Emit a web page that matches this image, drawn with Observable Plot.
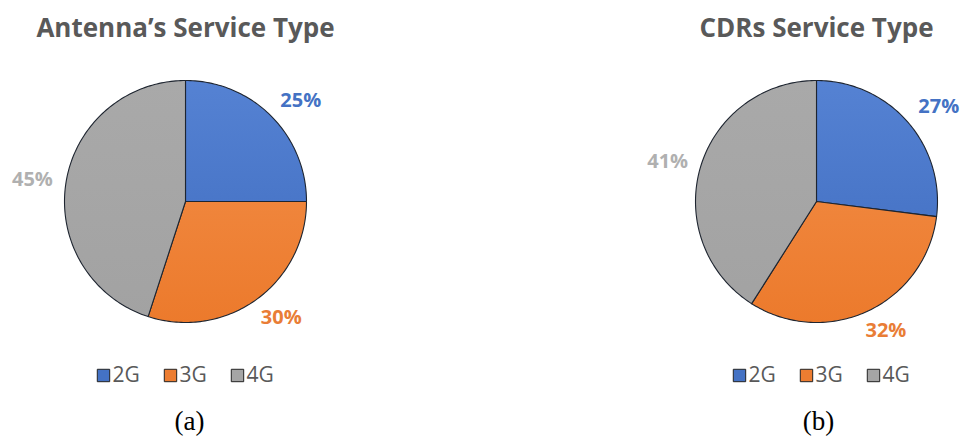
<!DOCTYPE html>
<html>
<head>
<meta charset="utf-8">
<script src="https://cdn.jsdelivr.net/npm/d3@7"></script>
<script src="https://cdn.jsdelivr.net/npm/@observablehq/plot@0.6"></script>
<style>
  html, body { margin: 0; padding: 0; background: #fff; }
  #chart { width: 964px; height: 440px; }
</style>
</head>
<body>
<div id="chart"></div>
<script>
// ---- data ----
const categories = ["2G", "3G", "4G"];
const antennaShares = [25, 30, 45];
const cdrShares = [27, 32, 41];
const titles = ["Antenna\u2019s Service Type", "CDRs Service Type"];
const captions = ["(a)", "(b)"];

// ---- styling / layout ----
const colors = {"2G": "#4472C4", "3G": "#ED7D31", "4G": "#A5A5A5"};
const labelColors = {"2G": "#4472C4", "3G": "#E97D36", "4G": "#B0B0B0"};
const gradIds = {"2G": "url(#g2G)", "3G": "url(#g3G)", "4G": "url(#g4G)"};
const W = 964, H = 440;
const panels = [
  {values: antennaShares, title: titles[0], caption: captions[0], cx: 185, cy: 201, r: 121, titleX: 185, legendX: 184, captionX: 189},
  {values: cdrShares, title: titles[1], caption: captions[1], cx: 816, cy: 201, r: 121, titleX: 816, legendX: 820, captionX: 818}
];
const labelGap = 12, labelHalfW = 22, labelHalfH = 10, labelRightPad = 8;

// slice polygons
const slicePts = [];
const labels = [];
const legendItems = [];
panels.forEach((p, pi) => {
  const total = d3.sum(p.values);
  let acc = 0;
  p.values.forEach((v, i) => {
    const a0 = acc / total * 2 * Math.PI;
    acc += v;
    const a1 = acc / total * 2 * Math.PI;
    const key = pi + "-" + categories[i];
    slicePts.push({key, cat: categories[i], x: p.cx, y: p.cy});
    const n = Math.max(2, Math.ceil((a1 - a0) / 0.02));
    for (let k = 0; k <= n; k++) {
      const a = a0 + (a1 - a0) * k / n;
      slicePts.push({key, cat: categories[i], x: p.cx + p.r * Math.sin(a), y: p.cy - p.r * Math.cos(a)});
    }
    const am = (a0 + a1) / 2;
    const s = Math.sin(am), c = Math.cos(am);
    const hx = labelHalfW + (s > 0 ? labelRightPad : 0);
    labels.push({
      cat: categories[i], text: v + "%",
      x: p.cx + (p.r + labelGap) * s + hx * s,
      y: p.cy - (p.r + labelGap) * c - labelHalfH * c
    });
  });
  categories.forEach((c, i) => {
    const sx = p.legendX - 81 + i * 67;
    legendItems.push({cat: c, sx, sy: 375, tx: sx + 9, ty: 375});
  });
});

const titleData = panels.map(p => ({text: p.title, x: p.titleX, y: 28}));
const captionData = panels.map(p => ({text: p.caption, x: p.captionX, y: 421}));

const sliceMarks = categories.map(c =>
  Plot.line(slicePts.filter(d => d.cat === c), {
    x: "x", y: "y", z: "key", curve: "linear-closed",
    fill: gradIds[c], stroke: "#1e2530", strokeWidth: 1.1, strokeLinejoin: "round"
  })
);

const chart = Plot.plot({
  width: W, height: H,
  margin: 0,
  x: {domain: [0, W], axis: null},
  y: {domain: [0, H], reverse: true, axis: null},
  style: {background: "#fff"},
  marks: [
    ...sliceMarks,
    Plot.text(titleData, {x: "x", y: "y", text: "text", fontFamily: "Open Sans", fontWeight: "bold", fontSize: 26, fill: "#595959"}),
    Plot.text(labels, {x: "x", y: "y", text: "text", fontFamily: "Open Sans", fontWeight: "bold", fontSize: 20, fill: d => labelColors[d.cat]}),
    Plot.dot(legendItems, {x: "sx", y: "sy", symbol: "square", r: 7, fill: d => colors[d.cat], stroke: "#222", strokeWidth: 1}),
    Plot.text(legendItems, {x: "tx", y: "ty", text: "cat", textAnchor: "start", fontFamily: "Open Sans", fontSize: 21, fill: "#595959"}),
    Plot.text(captionData, {x: "x", y: "y", text: "text", fontFamily: "Liberation Serif", fontSize: 27, fill: "#000"})
  ]
});

// gradients used for slice fills
const ns = "http://www.w3.org/2000/svg";
const defs = document.createElementNS(ns, "defs");
defs.innerHTML = `
  <linearGradient id="g2G" gradientUnits="userSpaceOnUse" x1="0" y1="80" x2="0" y2="322">
    <stop offset="0" stop-color="#5582D3"/><stop offset="1" stop-color="#3E6BBE"/>
  </linearGradient>
  <linearGradient id="g3G" gradientUnits="userSpaceOnUse" x1="0" y1="80" x2="0" y2="322">
    <stop offset="0" stop-color="#F3904B"/><stop offset="1" stop-color="#EC7A2C"/>
  </linearGradient>
  <linearGradient id="g4G" gradientUnits="userSpaceOnUse" x1="0" y1="80" x2="0" y2="322">
    <stop offset="0" stop-color="#A9A9A9"/><stop offset="1" stop-color="#A2A2A2"/>
  </linearGradient>`;
chart.insertBefore(defs, chart.firstChild);
document.getElementById("chart").appendChild(chart);
</script>
</body>
</html>
